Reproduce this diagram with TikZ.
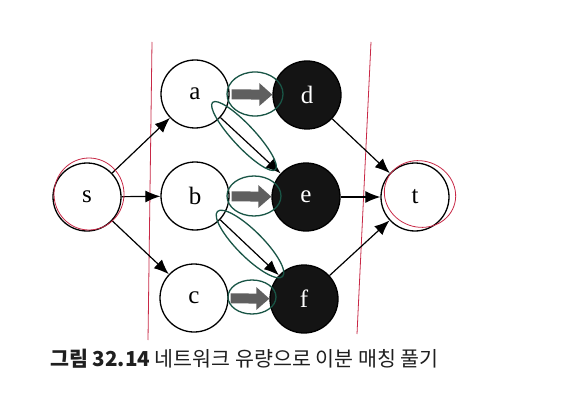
\documentclass[tikz,border=0pt]{standalone}
\usepackage{fontspec}
\setmainfont{Liberation Serif}
\newfontfamily\krfont{Noto Sans CJK KR}
\usetikzlibrary{arrows.meta}
\definecolor{pengreen}{RGB}{25,85,70}
\definecolor{penred}{RGB}{200,40,70}
\definecolor{flowgray}{RGB}{95,95,95}
\begin{document}
\begin{tikzpicture}[x=1pt,y=-1pt,
  vtx/.style={circle,draw,line width=1.3pt,minimum size=68pt,inner sep=0pt,font=\fontsize{25}{27}\selectfont},
  dark/.style={vtx,fill=black!92,text=white},
  edge/.style={line width=1.2pt,-{Latex[length=15pt,width=12pt]}},
  flow/.style={line width=10pt,draw=flowgray,-{Triangle[length=13pt,width=22pt]},shorten <=2pt},
  pen/.style={draw=pengreen,line width=1.3pt},
  redpen/.style={draw=penred,line width=0.8pt}]
\useasboundingbox (0,0) rectangle (588,406);
\fill[white] (0,0) rectangle (588,406);
% red pen lines
\draw[redpen] (152,42) -- (148,340);
\draw[redpen] (371,42) -- (357,334);
% nodes
\node[vtx] (s) at (87,197) {s};
\node[vtx] (a) at (195,94) {a};
\node[vtx] (b) at (195,196) {b};
\node[vtx] (c) at (194,298) {c};
\node[dark] (d) at (307,95) {d};
\node[dark] (e) at (306,197) {e};
\node[dark] (f) at (304,299) {f};
\node[vtx] (t) at (415,197) {t};
% edges
\draw[edge] (s) -- (a);
\draw[edge] (s) -- (b);
\draw[edge] (s) -- (c);
\draw[edge] (a) -- (e);
\draw[edge] (b) -- (f);
\draw[edge] (d) -- (t);
\draw[edge] (e) -- (t);
\draw[edge] (f) -- (t);
\draw[flow] (a) -- (d);
\draw[flow] (b) -- (e);
\draw[flow] (c) -- (f);
% green pen loops
\draw[pen] (255,94) ellipse [x radius=28pt, y radius=22pt];
\draw[pen] (254,196) ellipse [x radius=27pt, y radius=20pt];
\draw[pen] (252,297) ellipse [x radius=24pt, y radius=17pt];
\draw[pen,rotate around={-47:(244,136)}] (244,136) ellipse [x radius=46pt, y radius=11pt];
\draw[pen,rotate around={-45:(250,244)}] (250,244) ellipse [x radius=46pt, y radius=13pt];
% red pen circles
\draw[redpen] (89,194) ellipse [x radius=35pt, y radius=36pt];
\draw[redpen,rotate around={-20:(420,194)}] (420,194) ellipse [x radius=36pt, y radius=33pt];
% caption
\node[anchor=base west,font=\krfont\fontsize{20.6}{23}\selectfont,text=black!88,inner sep=0pt] (cap) at (50,366) {{\bfseries 그림 32.14} 네트워크 유량으로 이분 매칭 풀기};
\end{tikzpicture}
\end{document}
